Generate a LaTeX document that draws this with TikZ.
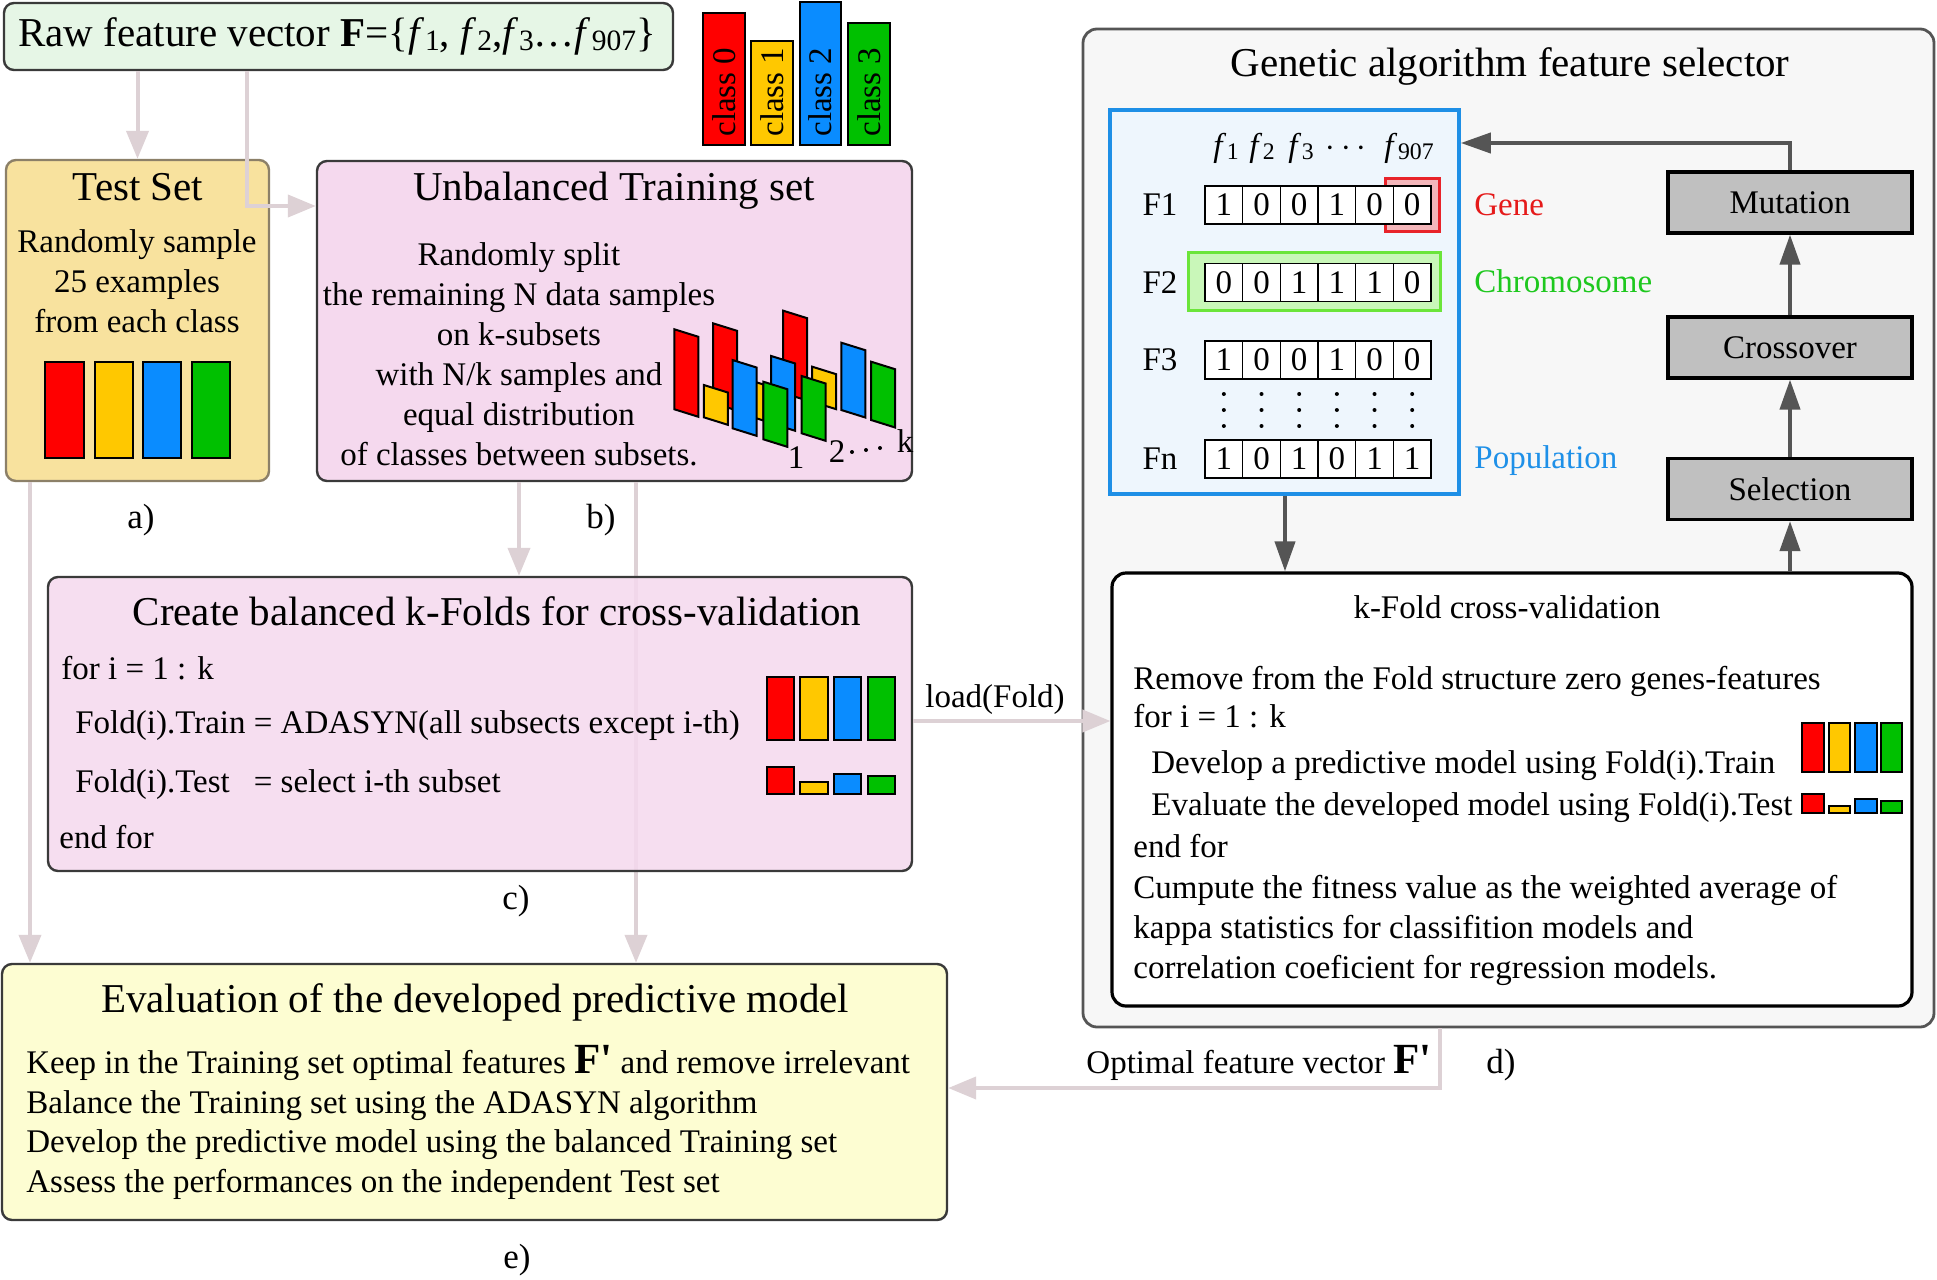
\documentclass[tikz,border=0pt]{standalone}
\usepackage{fontspec}
\usepackage{graphicx}
\setmainfont{Liberation Serif}
\usetikzlibrary{arrows.meta,fit}
\definecolor{rawfill}{HTML}{E6F6E6}
\definecolor{boxdraw}{HTML}{3A3A3A}
\definecolor{testfill}{HTML}{F8E29E}
\definecolor{testdraw}{HTML}{8C8068}
\definecolor{pinkfill}{HTML}{F5D9EE}
\definecolor{evalfill}{HTML}{FDFDD2}
\definecolor{gafill}{HTML}{F7F7F7}
\definecolor{gadraw}{HTML}{555555}
\definecolor{popfill}{HTML}{EEF6FD}
\definecolor{popdraw}{HTML}{1E8FE6}
\definecolor{genefill}{HTML}{F4B6BA}
\definecolor{genedraw}{HTML}{E8232A}
\definecolor{chromfill}{HTML}{C9F7B9}
\definecolor{chromdraw}{HTML}{6BE53A}
\definecolor{cRed}{HTML}{FF0000}
\definecolor{cYel}{HTML}{FFC800}
\definecolor{cBlu}{HTML}{0A8CFF}
\definecolor{cGrn}{HTML}{00C000}
\definecolor{opfill}{HTML}{C0C0C0}
\definecolor{darkarr}{HTML}{555555}
\definecolor{lightarr}{HTML}{DDD1D5}
\definecolor{geneText}{HTML}{E51A1A}
\definecolor{chromText}{HTML}{1EC81E}
\definecolor{popText}{HTML}{1E90E8}
\newcommand\tsz{\fontsize{20.5}{24}\selectfont}
\newcommand\bsz{\fontsize{16.5}{20}\selectfont}
\newcommand\lsz{\fontsize{17.5}{20}\selectfont}
\newcommand\fsub[1]{\textit{f}\kern0.02em\raisebox{-0.2ex}{\scalebox{0.72}{#1}}}
\newcommand\Fp{{\fontsize{21.5}{24}\selectfont\bfseries F\textquotesingle}}
\newcommand\pbar[4]{\draw[line width=1pt, fill=#4, line join=miter] (#1,#2) -- ({#1+24},{#2+7.5}) -- ({#1+24},{#3+7.5}) -- (#1,#3) -- cycle;}
\tikzset{
 framebox/.style={inner sep=0pt, rounded corners=5pt, line width=1.2pt},
 ttl/.style={font=\tsz, inner sep=0pt, anchor=base},
 bodyc/.style={font=\bsz, inner sep=0pt, anchor=base},
 bodyw/.style={font=\bsz, inner sep=0pt, anchor=base west},
 lbl/.style={font=\lsz, inner sep=0pt, anchor=base},
 larrow/.style={draw=lightarr, line width=2pt, -{Triangle[length=14pt,width=11pt]}},
 darrow/.style={draw=darkarr, line width=2pt, -{Triangle[length=15pt,width=10pt]}},
 cbar/.style={draw=black, line width=1pt},
 opbox/.style={draw=black, line width=1.6pt, fill=opfill, minimum width=122pt, minimum height=30.5pt, inner sep=0pt, font=\bsz},
 cell/.style={draw=black, line width=0.6pt, fill=white, minimum width=18.83pt, minimum height=19pt, inner sep=0pt, font=\bsz},
 hlbox/.style={inner sep=0pt, line width=1.5pt},
 clstxt/.style={font=\bsz, rotate=90, anchor=west, inner sep=0pt},
}
\begin{document}
\begin{tikzpicture}[x=0.5pt,y=-0.5pt]
\useasboundingbox[fill=white] (0,0) rectangle (1937,1279);

% guide coordinates
\coordinate (xL) at (30,0);
\coordinate (rawB) at (247,0);
\coordinate (rawBy) at (0,206);
\coordinate (xC) at (519,0);
\coordinate (xE) at (636,0);
\coordinate (loadY) at (0,721);
\coordinate (popx) at (1285,0);
\coordinate (mutY) at (0,143);
\coordinate (optX) at (1440,0);
\coordinate (optY) at (0,1088);

% ===== boxes =====
\node[framebox, fit={(1083,29) (1934,1027)}, fill=gafill, draw=gadraw, line width=1.4pt, rounded corners=7pt] (ga) {};
\node[framebox, fit={(4,3) (673,70)}, fill=rawfill, draw=boxdraw] (raw) {};
\node[framebox, fit={(6,160) (269,481)}, fill=testfill, draw=testdraw] (testset) {};
\node[framebox, fit={(317,161) (912,481)}, fill=pinkfill, draw=boxdraw] (unbal) {};
\node[framebox, fit={(2,964) (947,1220)}, fill=evalfill, draw=boxdraw] (eval) {};
\draw[larrow] (unbal.south -| xE) -- (eval.north -| xE);
\node[framebox, fit={(48,577) (912,871)}, fill=pinkfill, fill opacity=0.85, draw=boxdraw] (kfolds) {};

% ===== light arrows =====
\draw[larrow] (raw.south -| testset.north) -- (testset.north);
\draw[larrow] (raw.south -| rawB) |- (unbal.west |- rawBy);
\draw[larrow] (testset.south -| xL) -- (eval.north -| xL);
\draw[larrow] (unbal.south -| xC) -- (kfolds.north -| xC);

% ===== raw feature vector =====
\node[ttl] (rawtxt) at (337,47) {Raw feature vector \textbf{F}=\{\fsub{1}, \fsub{2},\fsub{3}\ldots\fsub{907}\}};
\draw[cbar, fill=cRed] (703,13) rectangle (745,145);
\draw[cbar, fill=cYel] (751,41) rectangle (793,145);
\draw[cbar, fill=cBlu] (800,2) rectangle (841,145);
\draw[cbar, fill=cGrn] (848,23) rectangle (890,145);
\node[clstxt] (cls0) at (724,137) {class 0};
\node[clstxt] (cls1) at (772,137) {class 1};
\node[clstxt] (cls2) at (820.5,137) {class 2};
\node[clstxt] (cls3) at (869,137) {class 3};

% ===== test set =====
\node[ttl] (testttl) at (138,200) {Test Set};
\foreach \t [count=\i] in {Randomly sample, 25 examples, from each class}
  \node[bodyc] (test\i) at (137,{212+40*\i}) {\t};
\draw[cbar, fill=cRed] (45,362) rectangle (84,458);
\draw[cbar, fill=cYel] (95,362) rectangle (133,458);
\draw[cbar, fill=cBlu] (143,362) rectangle (181,458);
\draw[cbar, fill=cGrn] (192,362) rectangle (230,458);
\node[lbl] (la) at (141,528) {a)};

% ===== unbalanced training set =====
\node[ttl] (unbttl) at (614,200) {Unbalanced Training set};
\foreach \t [count=\i] in {Randomly split, the remaining N data samples, on k-subsets, with N/k samples and, equal distribution, of classes between subsets.}
  \node[bodyc] (ub\i) at (519,{225+40*\i}) {\t};
% group 3
\pbar{783.2}{393}{310.7}{cRed}
\pbar{812.2}{401.7}{366.7}{cYel}
\pbar{841.3}{410}{342.7}{cBlu}
\pbar{871.1}{420}{361.7}{cGrn}
% group 2
\pbar{713}{403}{323.3}{cRed}
\pbar{739.4}{413}{377}{cYel}
\pbar{771.2}{423.3}{356}{cBlu}
\pbar{801.6}{433.3}{376}{cGrn}
% group 1
\pbar{674.4}{409.3}{329.3}{cRed}
\pbar{703.8}{417.3}{385}{cYel}
\pbar{732.5}{428.3}{360}{cBlu}
\pbar{763.3}{439.3}{381.7}{cGrn}
\node[font=\bsz, inner sep=0pt] (n1) at (796,458) {1};
\node[font=\bsz, inner sep=0pt] (n2) at (837,452) {2};
\fill (852,452) circle (1pt) (866,450) circle (1pt) (880,448) circle (1pt);
\node[font=\bsz, inner sep=0pt] (nk) at (905,441) {k};
\node[lbl] (lb) at (601,528) {b)};

% ===== k-folds box =====
\node[ttl] (cft) at (497,625) {Create balanced k-Folds for cross-validation};
\node[bodyw] (cf1) at (61,679) {for i = 1 : k};
\node[bodyw] (cf2) at (75,733) {Fold(i).Train = ADASYN(all subsects except i-th)};
\node[bodyw] (cf3) at (75,792) {\rlap{Fold(i).Test}\phantom{Fold(i).Train} = select i-th subset};
\node[bodyw] (cf4) at (59,848) {end for};
\draw[cbar, fill=cRed] (767,677) rectangle (794,740);
\draw[cbar, fill=cYel] (800,677) rectangle (828,740);
\draw[cbar, fill=cBlu] (834,677) rectangle (861,740);
\draw[cbar, fill=cGrn] (868,677) rectangle (895,740);
\draw[cbar, fill=cRed] (767,767) rectangle (794,794);
\draw[cbar, fill=cYel] (800,782) rectangle (828,794);
\draw[cbar, fill=cBlu] (834,774) rectangle (861,794);
\draw[cbar, fill=cGrn] (868,776) rectangle (895,794);
\node[lbl] (lc) at (516,909) {c)};

% ===== GA =====
\node[ttl] (gattl) at (1510,77) {Genetic algorithm feature selector};
\node[framebox, fit={(1110,110) (1459,494)}, fill=popfill, draw=popdraw, rounded corners=0pt, line width=1.8pt] (pop) {};
\node[hlbox, fit={(1385,178) (1439,231)}, fill=genefill, draw=genedraw] (genehl) {};
\node[hlbox, fit={(1188,252) (1440,310)}, fill=chromfill, draw=chromdraw] (chromhl) {};
\node[bodyc] (h1) at (1226,156) {\fsub{1}};
\node[bodyc] (h2) at (1262,156) {\fsub{2}};
\node[bodyc] (h3) at (1301,156) {\fsub{3}};
\node[bodyc] (h4) at (1346,156) {$\cdots$};
\node[bodyc] (h5) at (1409,156) {\fsub{907}};
\foreach \r/\yy/\bits in {1/205/{1,0,0,1,0,0}, 2/282.5/{0,0,1,1,1,0}, 3/360/{1,0,0,1,0,0}, n/459/{1,0,1,0,1,1}}{
  \node[font=\bsz, inner sep=0pt] (row\r) at (1160,\yy) {F\r};
  \foreach \b [count=\i] in \bits
    \node[cell] (cell-\r-\i) at ({1205+37.67*(\i-0.5)},\yy) {\b};
}
\foreach \i in {1,...,6}
  \foreach \yy in {394,410,426}
    \fill ({1205+37.67*(\i-0.5)},\yy) circle (1pt);
\node[bodyw, text=geneText] (gene) at (1474,215) {Gene};
\node[bodyw, text=chromText] (chrom) at (1474,292) {Chromosome};
\node[bodyw, text=popText] (popl) at (1474,468) {Population};

\node[opbox] (mut) at (1790,202.5) {Mutation};
\node[opbox] (cross) at (1790,347.5) {Crossover};
\node[opbox] (sel) at (1790,489) {Selection};

\node[framebox, fit={(1112,573) (1912,1006)}, fill=white, draw=black, line width=1.6pt, rounded corners=7pt] (kcv) {};
\node[bodyc] (kcvttl) at (1507,618) {k-Fold cross-validation};
\node[bodyw] (kcv1) at (1133,689) {Remove from the Fold structure zero genes-features};
\node[bodyw] (kcv2) at (1133,727) {for i = 1 : k};
\node[bodyw] (kcv3) at (1151,773) {Develop a predictive model using Fold(i).Train};
\node[bodyw] (kcv4) at (1151,815) {Evaluate the developed model using Fold(i).Test};
\node[bodyw] (kcv5) at (1133,857) {end for};
\node[bodyw] (kcv6) at (1133,898) {Cumpute the fitness value as the weighted average of};
\node[bodyw] (kcv7) at (1133,938) {kappa statistics for classifition models and};
\node[bodyw] (kcv8) at (1133,978) {correlation coeficient for regression models.};
\draw[cbar, fill=cRed] (1802,723) rectangle (1824,772);
\draw[cbar, fill=cYel] (1829,723) rectangle (1850,772);
\draw[cbar, fill=cBlu] (1855,723) rectangle (1877,772);
\draw[cbar, fill=cGrn] (1881,723) rectangle (1902,772);
\draw[cbar, fill=cRed] (1802,794) rectangle (1824,813);
\draw[cbar, fill=cYel] (1829,806) rectangle (1850,813);
\draw[cbar, fill=cBlu] (1855,799) rectangle (1877,813);
\draw[cbar, fill=cGrn] (1881,801) rectangle (1902,813);

% GA arrows
\draw[darrow] (pop.south -| popx) -- (kcv.north -| popx);
\draw[darrow] (kcv.north -| sel.south) -- (sel.south);
\draw[darrow] (sel.north) -- (cross.south);
\draw[darrow] (cross.north) -- (mut.south);
\draw[darrow] (mut.north) |- (pop.east |- mutY);

% load(Fold)
\draw[larrow] (kfolds.east |- loadY) -- (kcv.west |- loadY);
\node[bodyc] (loadl) at (995,707) {load(Fold)};

% ===== evaluation =====
\node[ttl] (evttl) at (475,1012) {Evaluation of the developed predictive model};
\node[bodyw] (ev1) at (26,1073) {Keep in the Training set optimal features \Fp{} and remove irrelevant};
\node[bodyw] (ev2) at (26,1113) {Balance the Training set using the ADASYN algorithm};
\node[bodyw] (ev3) at (26,1152) {Develop the predictive model using the balanced Training set};
\node[bodyw] (ev4) at (26,1192) {Assess the performances on the independent Test set};
\node[lbl] (le) at (517,1268) {e)};

\draw[larrow] (ga.south -| optX) |- (eval.east |- optY);
\node[font=\bsz, inner sep=0pt, anchor=base east] (optl) at (1432,1073) {Optimal feature vector \Fp};
\node[lbl] (ld) at (1501,1073) {d)};
\end{tikzpicture}
\end{document}
